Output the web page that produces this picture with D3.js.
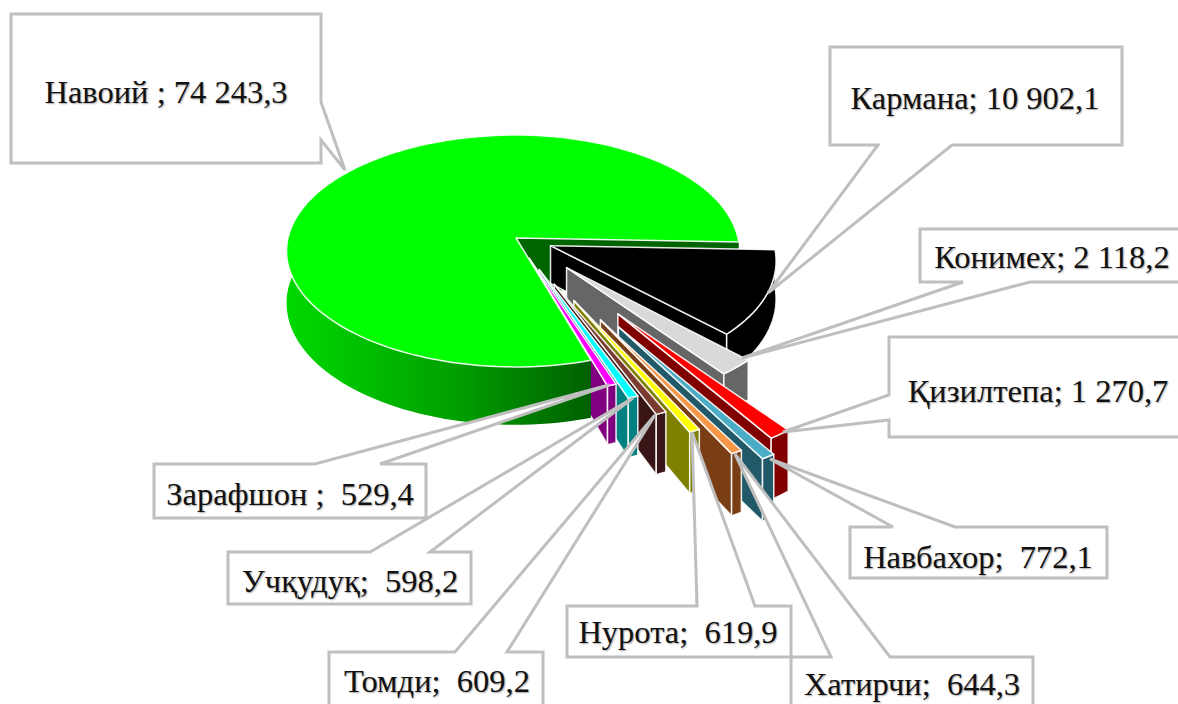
<!DOCTYPE html>
<html><head><meta charset="utf-8">
<script src="https://cdn.jsdelivr.net/npm/d3@7/dist/d3.min.js"></script>
<style>
html,body{margin:0;padding:0;background:#fff;overflow:hidden}
text{font-family:"Liberation Serif",serif;font-size:32.5px;fill:#111;text-anchor:middle;white-space:pre;text-shadow:1px 1px 1.5px rgba(0,0,0,.35)}
</style></head><body><svg id="c" width="1178" height="704"></svg>
<script>
// Data
const categories = ["Навоий","Кармана","Конимех","Қизилтепа","Навбахор","Хатирчи","Нурота","Томди","Учқудуқ","Зарафшон"];
const values = [74243.3,10902.1,2118.2,1270.7,772.1,644.3,619.9,609.2,598.2,529.4];
const labels = ["Навоий ; 74 243,3","Кармана; 10 902,1","Конимех; 2 118,2","Қизилтепа; 1 270,7","Навбахор;  772,1","Хатирчи;  644,3","Нурота;  619,9","Томди;  609,2","Учқудуқ;  598,2","Зарафшон ;  529,4"];

// Styling and layout
const explode = [0,.168,.335,.75,.83,.75,.57,.42,.286,.184];
const depths  = [55,40,38,55,55,55,55,55,55,55];
const topFill  = ["#00ff00","#000000","#d9d9d9","#ff0000","#4bacc6","#f79646","#ffff00","#7a3b30","#00ffff","#ff00ff"];
const sideFill = ["#006400","#000000","#666666","#800000","#215968","#7a3e14","#808000","#3a1515","#008080","#800080"];
const callouts = [
 {box:[11,14,321,163],side:"right",a:102,b:140,tip:[345,170],tx:166,ty:103},
 {box:[830,47,1122,145],side:"bottom",a:878,b:952,tip:[768,293],tx:975,ty:109},
 {box:[920,229,1190,282],side:"bottom",a:963,b:1030,tip:[742,358],tx:1052,ty:268},
 {box:[889,337,1190,437],side:"left",a:395,b:420,tip:[783,432],tx:1038,ty:402},
 {box:[850,527,1107,578],side:"top",a:893,b:955,tip:[770,459],tx:978,ty:568},
 {box:[791,657,1033,720],side:"top",a:831,b:890,tip:[735,454],tx:912,ty:695},
 {box:[567,606,791,657],side:"top",a:697,b:755,tip:[692,432],tx:678,ty:643},
 {box:[329,652,543,720],side:"top",a:455,b:507,tip:[655,415],tx:437,ty:692},
 {box:[228,552,471,604],side:"top",a:370,b:430,tip:[633,398],tx:350,ty:592},
 {box:[154,464,426,518],side:"top",a:315,b:380,tip:[609,385],tx:290,ty:505}
];

const svg = d3.select("#c");
const defs = svg.append("defs");
const grad = defs.append("linearGradient").attr("id","rim").attr("gradientUnits","userSpaceOnUse")
  .attr("x1",288).attr("x2",590).attr("y1",0).attr("y2",0);
grad.append("stop").attr("offset",0).attr("stop-color","#00d800");
grad.append("stop").attr("offset",.55).attr("stop-color","#00a000");
grad.append("stop").attr("offset",1).attr("stop-color","#006000");

// Projection: flat disc seen in perspective
const persp = .112;
const xs = d3.scaleLinear().domain([-1,0,1]).range([516-228,516,516+222]);
const ys = d3.scaleLinear().domain([-1,1]).range([238-114.5,238+114.5]);
const project = (u,v,drop=0)=>{const s=1/(1-persp*v);return [xs(u*s),ys(v*s)+drop*s/1.07];};
const line = d3.line();

const rad = Math.PI/180;
const arcs = d3.pie().sort(null).value(d=>d)
  .startAngle(72.45*rad).endAngle((72.45+360)*rad)(values);

function geom(i){
  const a0=arcs[i].startAngle,a1=arcs[i].endAngle,mid=(a0+a1)/2,d=explode[i];
  const ox=d*Math.cos(mid),oy=d*Math.sin(mid);
  const n=Math.max(2,Math.ceil((a1-a0)/rad/2));
  const angs=d3.range(n+1).map(k=>a0+(a1-a0)*k/n);
  const pt=(a,r,drop)=>project(ox+r*Math.cos(a),oy+r*Math.sin(a),drop);
  return {a0,a1,ox,oy,angs,pt};
}
const g=svg.append("g").attr("stroke-linejoin","round");
const face=(pts,fill,w=1.5)=>g.append("path").attr("d",line(pts)+"Z").attr("fill",fill)
   .attr("stroke","#fff").attr("stroke-opacity",.9).attr("stroke-width",w);

// Navoi inner wall sits behind the exploded slices
const G0=geom(0),D0=depths[0];
face([G0.pt(0,0,0),G0.pt(G0.a1,1,0),G0.pt(G0.a1,1,D0),G0.pt(0,0,D0)],sideFill[0],.8).attr("stroke","none");

// Exploded slices, back to front
d3.range(1,values.length).forEach(i=>{
  const G=geom(i),D=depths[i];
  const c=G.pt(0,0,0),cb=G.pt(0,0,D);
  face([c,G.pt(G.a1,1,0),G.pt(G.a1,1,D),cb],sideFill[i]);
  const rim=G.angs.map(a=>G.pt(a,1,0)).concat(G.angs.slice().reverse().map(a=>G.pt(a,1,D)));
  face(rim,sideFill[i]);
  face([c].concat(G.angs.map(a=>G.pt(a,1,0))),topFill[i]);
});

// Navoi rim and top hide the inner ends of the slices
const arcF=G0.angs.filter(a=>a<=192*rad);
const frontRim=arcF.map(a=>G0.pt(a,1,0)).concat(arcF.slice().reverse().map(a=>G0.pt(a,1,D0)));
g.append("path").attr("d",line(frontRim)+"Z").attr("fill","url(#rim)");
face([G0.pt(0,0,0)].concat(G0.angs.map(a=>G0.pt(a,1,0))),topFill[0],1.5);

// Callouts
function calloutPath(c){
  const [x0,y0,x1,y1]=c.box,t=c.tip;
  let p;
  if(c.side==="top")p=[[x0,y0],[c.a,y0],t,[c.b,y0],[x1,y0],[x1,y1],[x0,y1]];
  if(c.side==="bottom")p=[[x0,y0],[x1,y0],[x1,y1],[c.b,y1],t,[c.a,y1],[x0,y1]];
  if(c.side==="left")p=[[x0,y0],[x1,y0],[x1,y1],[x0,y1],[x0,c.b],t,[x0,c.a]];
  if(c.side==="right")p=[[x0,y0],[x1,y0],[x1,c.a],t,[x1,c.b],[x1,y1],[x0,y1]];
  return line(p)+"Z";
}
const lab=svg.append("g");
callouts.forEach((c,i)=>{
  lab.append("path").attr("d",calloutPath(c)).attr("fill","#fff").attr("stroke","#bfbfbf").attr("stroke-width",3).attr("stroke-linejoin","miter");
});
callouts.forEach((c,i)=>{
  lab.append("text").attr("x",c.tx).attr("y",c.ty).text(labels[i]);
});
</script></body></html>
